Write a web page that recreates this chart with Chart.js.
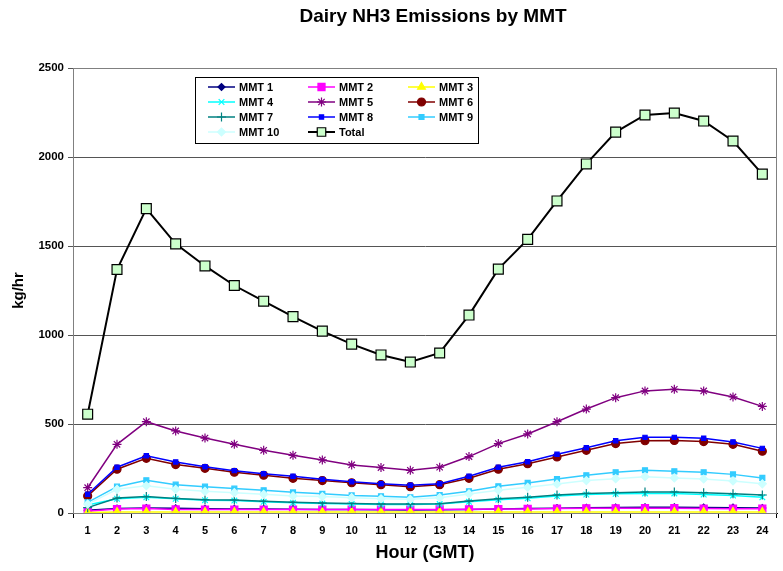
<!DOCTYPE html>
<html>
<head>
<meta charset="utf-8">
<script src="https://cdn.jsdelivr.net/npm/chart.js@4/dist/chart.umd.min.js"></script>
<style>
  html, body { margin: 0; padding: 0; background: #fff; }
  #wrap { width: 783px; height: 571px; position: relative; }
</style>
</head>
<body>
<div id="wrap"><canvas id="chart" width="783" height="571"></canvas></div>
<script>
// hours along the x axis
var hours = ['1', '2', '3', '4', '5', '6', '7', '8', '9', '10', '11', '12',
             '13', '14', '15', '16', '17', '18', '19', '20', '21', '22', '23', '24'];
var yTicks = [0, 500, 1000, 1500, 2000, 2500];

// emissions, kg/hr
var mmt1  = [15, 25, 28, 26, 24, 23, 22, 21, 20, 19, 18, 17, 18, 20, 23, 25, 27, 29, 31, 32, 32, 31, 30, 28];
var mmt2  = [10, 22, 25, 20, 19, 19, 19, 19, 19, 19, 19, 19, 20, 21, 22, 23, 25, 26, 26, 27, 27, 25, 24, 24];
var mmt3  = [3, 5, 5, 5, 5, 5, 5, 5, 5, 5, 5, 5, 5, 5, 5, 5, 5, 6, 6, 6, 6, 6, 6, 6];
var mmt4  = [45, 80, 88, 80, 72, 70, 63, 57, 53, 51, 48, 48, 50, 63, 75, 83, 95, 104, 108, 110, 110, 104, 98, 88];
var mmt5  = [142, 386, 513, 461, 421, 386, 352, 324, 298, 270, 255, 240, 257, 317, 390, 444, 513, 584, 648, 686, 695, 686, 652, 599];
var mmt6  = [96, 246, 307, 272, 251, 229, 212, 195, 182, 170, 159, 148, 159, 195, 246, 277, 315, 352, 390, 406, 408, 401, 386, 347];
var mmt7  = [30, 84, 92, 82, 75, 73, 66, 60, 56, 54, 51, 51, 52, 67, 80, 88, 101, 110, 114, 118, 118, 114, 108, 101];
var mmt8  = [105, 257, 322, 287, 260, 238, 221, 206, 189, 176, 164, 156, 164, 206, 257, 288, 330, 367, 406, 425, 425, 420, 399, 363];
var mmt9  = [60, 148, 184, 159, 148, 137, 128, 116, 108, 99, 94, 88, 101, 122, 150, 169, 191, 212, 229, 240, 234, 229, 217, 197];
var mmt10 = [50, 133, 153, 133, 122, 114, 105, 96, 92, 86, 80, 77, 86, 107, 128, 144, 163, 182, 193, 204, 197, 191, 180, 164];
var total = [555, 1368, 1710, 1512, 1388, 1278, 1190, 1103, 1022, 949, 888, 848, 899, 1112, 1370, 1537, 1753, 1961, 2140, 2236, 2247, 2202, 2090, 1904];

var FONT = 'Liberation Sans, Arial, sans-serif';

function series(label, data, color, style, radius, fill, width) {
    return {
        label: label,
        data: data,
        borderColor: color,
        backgroundColor: fill || color,
        pointBorderColor: color,
        pointBackgroundColor: fill || color,
        pointStyle: style,
        pointRadius: radius,
        pointHoverRadius: radius,
        pointBorderWidth: 1.2,
        borderWidth: width || 1.5,
        tension: 0,
        fill: false
    };
}

var datasets = [
    series('MMT 1', mmt1, '#000080', 'rectRot', 3.5),
    series('MMT 2', mmt2, '#ff00ff', 'rect', 5),
    series('MMT 3', mmt3, '#ffff00', 'triangle', 4.5),
    series('MMT 4', mmt4, '#00ffff', 'crossRot', 4),
    series('MMT 5', mmt5, '#800080', 'star', 4.5),
    series('MMT 6', mmt6, '#800000', 'circle', 4),
    series('MMT 7', mmt7, '#008080', 'cross', 4.5),
    series('MMT 8', mmt8, '#0000ff', 'rect', 3),
    series('MMT 9', mmt9, '#33ccff', 'rect', 3.5),
    series('MMT 10', mmt10, '#ccffff', 'rectRot', 4),
    series('Total', total, '#000000', 'rect', 7, '#ccffcc', 2)
];
// later series drawn on top, like the original
datasets.forEach(function (ds, i) { ds.order = datasets.length - i; });

// title, plot frame and the three-column legend box
var decorations = {
    id: 'decorations',
    beforeDatasetsDraw: function (chart) {
        var ctx = chart.ctx, a = chart.chartArea;
        ctx.save();
        ctx.strokeStyle = '#808080';
        ctx.lineWidth = 1;
        ctx.strokeRect(a.left + 0.5, a.top + 0.5, a.right - a.left - 1, a.bottom - a.top);
        ctx.restore();
    },
    afterDraw: function (chart) {
        var ctx = chart.ctx;
        ctx.save();
        ctx.fillStyle = '#000';
        ctx.font = 'bold 19px ' + FONT;
        ctx.textAlign = 'center';
        ctx.textBaseline = 'middle';
        ctx.fillText('Dairy NH3 Emissions by MMT', 433, 17);

        // legend
        ctx.fillStyle = '#fff';
        ctx.fillRect(195, 77, 283, 66);
        ctx.strokeStyle = '#000';
        ctx.lineWidth = 1;
        ctx.strokeRect(195.5, 77.5, 283, 66);
        var cols = [208, 308, 408], rows = [87, 102, 117, 132];
        ctx.font = 'bold 11px ' + FONT;
        ctx.textAlign = 'left';
        chart.data.datasets.forEach(function (ds, i) {
            var x = cols[i % 3], y = rows[Math.floor(i / 3)];
            var r = Math.min(ds.pointRadius, 5);
            ctx.strokeStyle = ds.borderColor;
            ctx.lineWidth = ds.borderWidth;
            ctx.beginPath();
            ctx.moveTo(x, y);
            ctx.lineTo(x + 27, y);
            ctx.stroke();
            ctx.fillStyle = ds.pointBackgroundColor;
            ctx.strokeStyle = ds.pointBorderColor;
            ctx.lineWidth = ds.pointBorderWidth;
            Chart.helpers.drawPoint(ctx, {
                pointStyle: ds.pointStyle,
                radius: ds.label === 'Total' ? 6 : r,
                borderWidth: ds.pointBorderWidth,
                rotation: 0
            }, x + 13.5, y);
            ctx.fillStyle = '#000';
            ctx.fillText(ds.label, x + 31, y + 1);
        });
        ctx.restore();
    }
};

new Chart(document.getElementById('chart'), {
    type: 'line',
    data: { labels: hours, datasets: datasets },
    plugins: [decorations],
    options: {
        responsive: false,
        animation: false,
        layout: { autoPadding: false, padding: { left: 0, top: 68, right: 6, bottom: 0 } },
        plugins: {
            legend: { display: false },
            title: { display: false },
            tooltip: { enabled: false }
        },
        scales: {
            x: {
                offset: true,
                afterFit: function (scale) { scale.height = 58; },
                grid: { display: true, drawOnChartArea: false, drawTicks: true, tickLength: 5, color: '#000', offset: true },
                border: { display: true, color: '#000' },
                ticks: { color: '#000', font: { family: FONT, size: 11, weight: 'bold' }, padding: 6, maxRotation: 0, autoSkip: false },
                title: { display: true, text: 'Hour (GMT)', color: '#000', font: { family: FONT, size: 18, weight: 'bold' }, padding: { top: 4, bottom: 7 } }
            },
            y: {
                min: 0,
                max: 2500,
                afterFit: function (scale) { scale.width = 73; },
                afterBuildTicks: function (scale) {
                    scale.ticks = yTicks.map(function (v) { return { value: v }; });
                },
                grid: { color: '#555', lineWidth: 1, tickLength: 5, drawTicks: true },
                border: { display: true, color: '#000' },
                ticks: {
                    color: '#000',
                    font: { family: FONT, size: 11.5, weight: 'bold' },
                    padding: 4,
                    callback: function (v) { return String(v); }
                },
                title: { display: true, text: 'kg/hr', color: '#000', font: { family: FONT, size: 15, weight: 'bold' }, padding: { top: 10, bottom: 4 } }
            }
        }
    }
});
</script>
</body>
</html>
